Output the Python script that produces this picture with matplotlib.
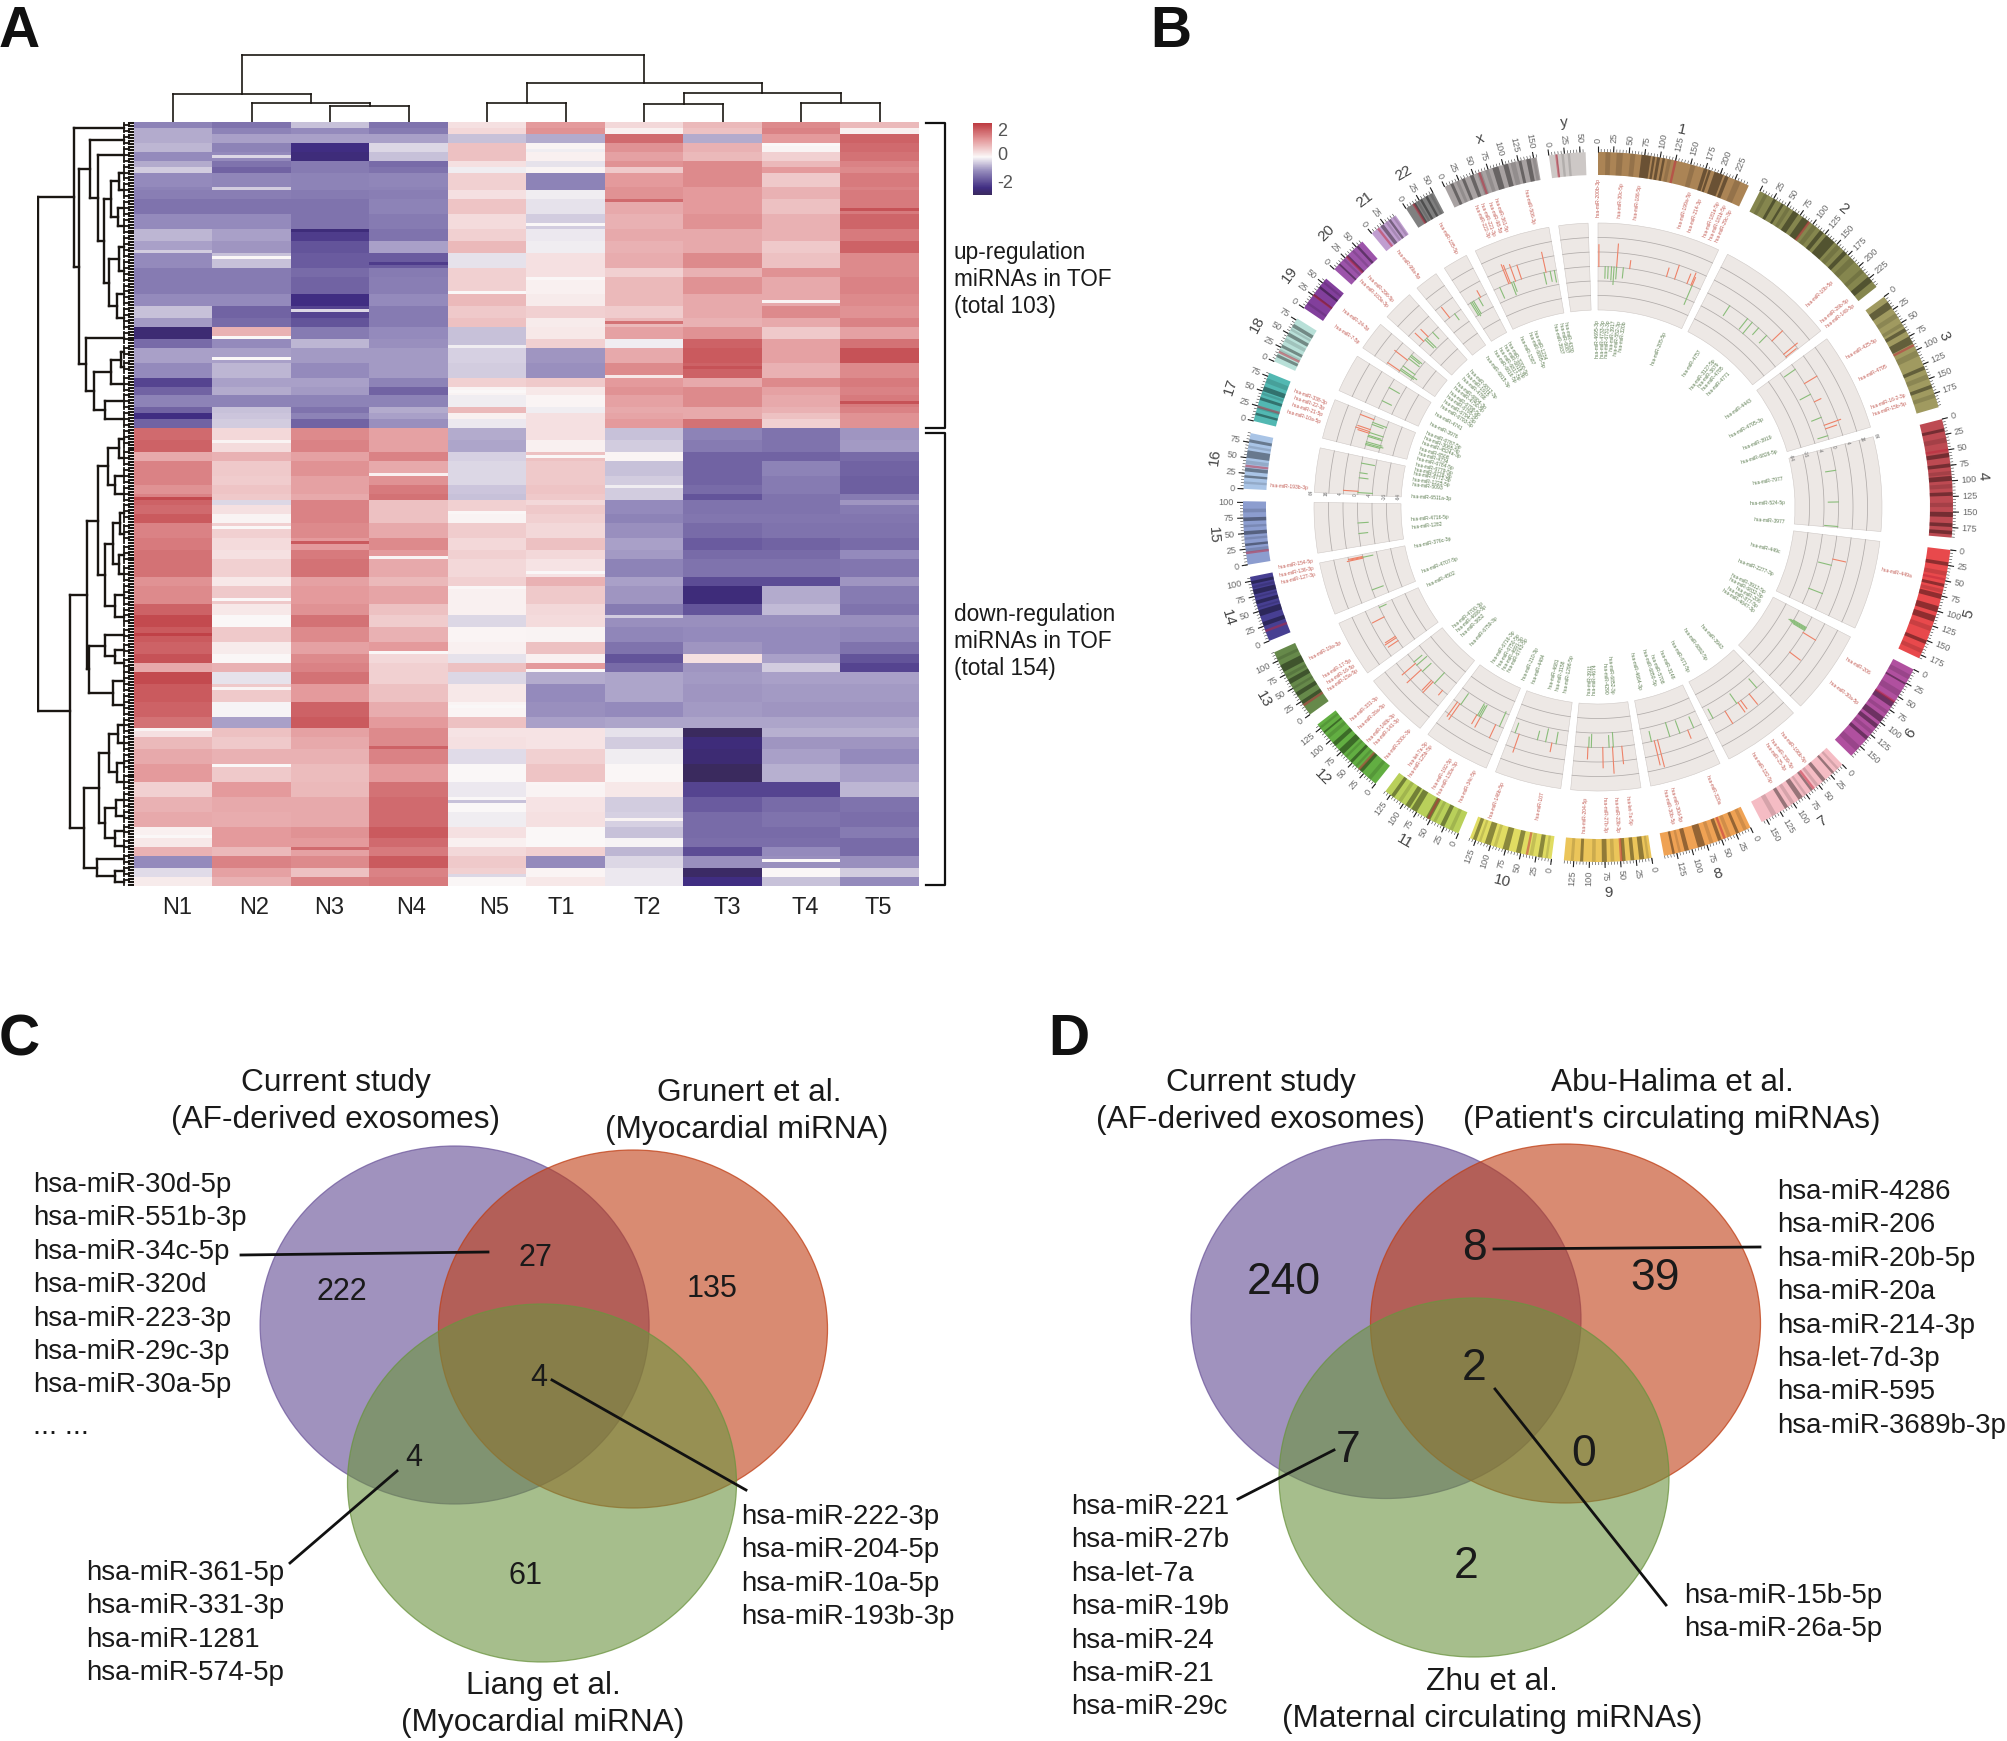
# -*- coding: utf8 -*-
"""
Exosome miRNA figure: heatmap (A), circos plot (B) and two venn diagrams (C, D)
"""
from matplotlib import pyplot as plt
from matplotlib.colors import LinearSegmentedColormap, to_rgba
from matplotlib.patches import Ellipse

import numpy as np

plt.rcParams['font.family'] = ['Liberation Sans', 'DejaVu Sans']

W, H = 2008, 1741

# ---------------- panel A, heatmap ----------------
columns = ['N1', 'N2', 'N3', 'N4', 'N5', 'T1', 'T2', 'T3', 'T4', 'T5']

band_rows = [2, 2, 3, 3, 3, 2, 2, 5, 1, 3, 5, 5, 4, 4, 5, 3, 6, 4, 4, 3, 4, 3, 5, 5, 3, 3, 4, 2, 2, 3,
             4, 4, 3, 5, 3, 3, 2, 2, 3, 3, 5, 4, 3, 6, 3, 6, 4, 4, 5, 4, 3, 3,
             4, 6, 5, 4, 3, 4, 5, 6, 5, 5, 5, 4, 3, 3, 4, 3, 3]

N1 = [-1.1, -.7, -.7, -.6, -1.0, -.7, -.4, -1.0, -1.1, -1.15, -1.3, -1.0, -.6, -.8, -1.0, -1.2, -1.2, -1.0, -.5,
      -.85, -2.4, -1.4, -.8, -1.0, -1.9, -1.5, -1.1, -1.5, -2.2, -1.5,
      1.8, 1.9, 1.0, 1.5, 1.5, 1.3, 1.5, 1.9, 1.8, 2.0, 1.5, 1.6, 1.7, 1.7, 1.3, 1.4, 1.9, 2.2, 2.0, 1.9, 2.1, 1.0,
      2.2, 2.0, 1.9, 1.7, .3, .8, 1.0, 1.2, .5, .9, 1.0, .1, .2, .9, -1.0, -.25, .15]
N2 = [-1.3, -1.1, -.8, -1.1, -1.0, -1.3, -1.5, -1.05, -.4, -1.15, -1.3, -1.0, -.8, -.9, -.5, -1.2, -1.2, -1.0, -1.5,
      -1.4, .9, -1.0, -.8, -.6, -.8, -.7, -1.1, -.5, -.45, -.4,
      .4, .35, .9, .6, .55, .65, .6, -.3, .3, .05, .5, .35, .3, .5, .2, .6, .2, 0, .6, .15, .02, .9,
      -.2, .6, -.05, -.8, .7, .6, .9, .6, 1.2, 1.0, .95, 1.2, 1.2, .8, 1.5, 1.1, .9]
N3 = [-.5, -1.0, -.8, -2.2, -2.3, -1.2, -1.2, -1.1, -1.1, -1.2, -1.3, -1.3, -2.0, -1.7, -1.6, -1.4, -1.5, -2.2, -1.9,
      -1.7, -1.2, -.6, -.85, -1.0, -.8, -.85, -1.1, -1.3, -1.1, -1.5,
      1.4, 1.5, 1.1, 1.3, 1.1, 1.1, 1.0, 1.5, 1.5, 1.5, 1.4, 1.2, 1.6, 1.7, 1.1, 1.2, 1.3, 1.7, 1.4, 1.1, 1.4, 1.5,
      1.7, 1.2, 1.9, 2.0, 1.1, 1.0, .9, .75, .8, 1.0, 1.0, 1.3, 1.2, 1.1, 1.4, .7, 1.5]
N4 = [-1.3, -1.2, -.8, -.3, -.5, -1.4, -1.3, -1.05, -1.1, -1.15, -1.1, -1.2, -1.3, -.8, -1.6, -1.2, -1.15, -1.0, -1.2,
      -1.2, -1.0, -.95, -.85, -.85, -1.1, -1.5, -1.1, -.7, -.8, -.95,
      1.1, 1.1, 1.5, 1.0, 1.3, 1.6, 1.7, .7, .7, .7, 1.0, 1.4, 1.2, 1.0, .8, 1.05, .7, .55, .9, 1.2, .4, .5,
      .5, .7, .95, 1.2, 1.4, 1.4, 1.5, 1.2, 1.7, 1.8, 1.8, 2.0, 1.8, 1.6, 2.0, 1.5, 1.6]
N5 = [.3, .4, -.5, .7, .7, .3, -.1, .5, .5, .3, .65, .35, .5, .8, -.2, .5, .5, .8, .6, .7, -.5, -.5, -.35, -.4, .5,
      .05, -.1, .8, .1, -.15,
      -.7, -.75, -.35, -.3, -.3, -.45, -.5, .5, .5, .05, .55, .4, .5, .4, .5, .1, .1, -.3, .03, .1, -.2, .7,
      -.3, .2, .03, .7, .25, .3, -.25, 0, -.15, 0, -.1, .3, .1, .4, .6, .5, .02]
T1 = [1.2, 1.3, -.7, .05, .1, -.2, .05, -1.1, -1.1, -.1, -.2, -.4, -.15, -.1, .3, .3, .1, .15, .5, .15, .2, .5, -.9,
      -.95, .6, .2, .03, -.1, .3, .3,
      .3, .1, .7, .6, .6, .65, .6, .4, .6, .5, .4, .7, .4, .25, .9, .6, .4, .35, .05, .7, .1, 1.2,
      -.7, -1.0, -.95, -.8, .25, .25, .5, .65, .05, .25, .3, 0, 0, .5, -1.0, .03, .2]
T2 = [.4, .1, 1.8, 1.3, 1.1, 1.3, .6, 1.2, 1.3, 1.3, 1.0, .9, 1.0, .9, .95, .5, .8, .8, .55, .8, 1.1, -.1, 1.0, 1.4,
      1.2, 1.3, 1.1, 1.0, 1.05, 1.2,
      -.5, -.4, .03, -.5, -.4, -.4, -.4, -1.0, -1.0, -1.1, -.95, -.8, -.85, -1.1, -.8, -.9, -1.2, -.95, -1.05, -1.3,
      -1.7, -1.4,
      -.75, -.75, -1.0, -.75, -.2, -.4, -.1, .02, .2, -.4, -.35, -.5, -.05, -.6, -.3, -.15, -.15]
T3 = [.8, .7, -.7, .9, .8, 1.4, 1.4, 1.4, 1.2, 1.2, 1.2, 1.3, 1.0, 1.0, 1.4, .9, 1.3, 1.0, 1.0, .9, 1.3, 1.9, 2.0,
      1.9, 1.0, 1.4, 1.4, 1.0, 1.0, 1.7,
      -1.1, -1.2, -1.5, -1.5, -1.5, -1.4, -1.7, -1.3, -1.3, -1.25, -1.4, -1.6, -1.4, -1.3, -1.8, -2.3, -1.7, -.95,
      -1.0, -.9, .3, -.9,
      -.85, -.9, -.85, -.75, -2.7, -2.3, -2.4, -2.7, -1.9, -1.6, -1.4, -1.4, -1.35, -1.8, -.95, -2.6, -2.2]
T4 = [1.4, 1.5, 1.2, .05, .5, .8, 1.2, .6, .9, .9, .7, .9, .9, .6, .7, 1.3, 1.0, 1.0, 1.4, 1.0, .6, 1.1, 1.1, .9,
      1.4, 1.1, 1.0, .9, .7, .5,
      -1.3, -1.3, -1.5, -1.1, -1.2, -1.2, -1.3, -1.3, -1.3, -1.25, -1.3, -1.5, -1.4, -1.3, -1.8, -.7, -.55, -.95,
      -1.0, -1.0, -.8, -.4,
      -.8, -.85, -.9, -.75, -.65, -.9, -.8, -.65, -1.9, -1.4, -1.3, -1.4, -1.35, -1.0, -.95, .02, -.5]
T5 = [.8, .1, 1.9, 1.8, 1.7, 1.5, 1.4, 1.6, 1.5, 1.6, 1.6, 1.85, 1.6, 1.9, 1.4, 1.4, 1.5, 1.4, 1.3, 1.5, 1.1, 1.7,
      2.1, 1.4, 1.6, 1.5, 1.6, 1.5, 1.3, 1.3,
      -.9, -.85, -1.4, -1.5, -1.55, -1.55, -1.2, -.9, -1.2, -1.25, -1.3, -1.4, -1.0, -1.25, -.9, -1.2, -1.3, -.95,
      -1.05, -1.3, -1.7, -1.9,
      -.8, -.85, -.9, -.75, -.65, -.9, -1.0, -.8, -.6, -1.3, -1.35, -1.2, -1.4, -1.4, -.95, -.4, -1.0]

# thin lines that the bands above do not catch: row, column, value
streak_rows = [7, 9, 11, 22, 26, 29, 34, 36, 43, 45, 47, 52, 57, 60, 63, 67, 72, 75, 79, 82, 85, 90, 94,
               107, 112, 118, 122, 126, 131, 136, 141, 146, 151, 156, 160, 166, 172, 178, 184, 190, 196,
               204, 210, 216, 222, 228, 234, 240, 244, 248, 253]
streak_cols = [8, 5, 1, 1, 6, 9, 5, 2, 0, 1, 3, 5, 4, 8, 2, 6, 1, 4, 1, 7, 6, 4, 9,
               1, 5, 3, 6, 0, 4, 1, 2, 3, 5, 4, 1, 6, 0, 3, 5, 1, 4,
               0, 3, 1, 5, 4, 6, 0, 2, 8, 4]
streak_vals = [0, -.1, -.3, -.4, 1.8, 2.1, 0, -2.3, -.4, 0, -2, .02, 0, .05, -.3, 1.7, 0, -.1, 0, 2.1, .2, 0, 2.1,
               .05, 0, .1, -.1, 2.2, .02, 0, 2.0, .05, 0, .02, 0, -.4, 2.3, 0, 0, .05, 0,
               .05, 1.9, 0, .03, -.5, .05, 0, 1.8, 0, -.3]

tree_cols = (1.0,
             (.42, 1, (.29, 1, (.24, 1, 1))),
             (.58, (.29, 1, 1), (.43, (.27, 1, 1), (.29, 1, 1))))

tree_a3 = (.46, 4, (.38, 6, (.31, (.24, (.16, 6, 6), (.17, 6, 6)), (.26, (.16, 8, 8), (.18, 8, 8)))))
tree_a4 = (.5, 5, (.42, (.24, (.14, 5, 5), 6), (.3, 6, 6)))
tree_b1 = (.37, (.27, (.16, 7, 6), (.2, 6, 6)), (.3, (.22, (.15, 7, 7), (.16, 7, 6)), (.2, 8, 7)))
tree_b2 = (.47, (.3, 5, (.2, 5, 4)), (.22, 8, 8))
tree_b3 = (.36, (.26, (.17, 6, 6), (.18, 7, 6)), (.3, (.19, 6, 5), (.2, 5, 5)))
tree_b4 = (.39, 4, (.2, 4, 3))
tree_rows = (1.0, (.62, 4, (.57, tree_a3, tree_a4)), (.67, (.49, tree_b1, tree_b2), (.52, tree_b3, tree_b4)))

# ---------------- panel B, circos ----------------
chr_names = ['1', '2', '3', '4', '5', '6', '7', '8', '9', '10', '11', '12', '13', '14', '15', '16', '17', '18',
             '19', '20', '21', '22', 'x', 'y']
chr_len = [249, 243, 198, 191, 181, 171, 159, 146, 141, 135, 135, 133, 115, 107, 102, 90, 81, 78, 59, 63, 48, 51,
           155, 59]
chr_colors = ['#ab8455', '#85864e', '#a09a60', '#bd4a52', '#e8494c', '#b0509f', '#f5bcc4', '#efa254', '#ebc55a',
              '#e0dc62', '#b9d05a', '#62ae42', '#66894a', '#473f92', '#8c9dcf', '#a9c4e6', '#52b8b2', '#b8e0d8',
              '#823f9c', '#9c54aa', '#c09ed0', '#808080', '#a8a2a2', '#cdc8c6']
chr_centro = [125, 93, 91, 50, 48, 60, 60, 45, 49, 40, 54, 35, 18, 17, 19, 37, 24, 17, 26, 28, 13, 14, 60, 12]
chr_dark = [
    [(70, 85), (88, 92), (95, 100), (104, 108), (172, 178), (180, 184), (190, 205), (208, 214)],
    [(25, 30), (40, 44), (62, 72), (80, 92), (115, 122), (128, 145), (165, 172), (222, 232)],
    [(10, 22), (60, 66), (75, 88), (128, 134), (160, 166)],
    [(15, 20), (55, 62), (72, 78), (92, 100), (118, 124), (150, 158), (168, 174), (180, 186)],
    [(20, 26), (55, 60), (72, 80), (92, 102), (108, 118), (150, 156)],
    [(25, 28), (60, 70), (90, 100), (105, 112), (130, 136)],
    [(18, 22), (36, 42), (62, 66), (82, 90), (110, 116)],
    [(20, 25), (50, 56), (78, 90), (105, 112), (128, 132)],
    [(12, 20), (28, 34), (42, 48), (72, 80), (110, 115)],
    [(15, 22), (50, 58), (70, 80), (100, 110), (124, 130)],
    [(25, 32), (50, 58), (75, 85), (88, 96), (118, 124)],
    [(28, 34), (50, 55), (70, 80), (88, 95), (115, 118)],
    [(20, 26), (35, 42), (58, 66), (80, 92)],
    [(25, 32), (42, 52), (62, 68), (78, 86), (95, 100)],
    [(30, 34), (48, 54), (70, 76)],
    [(18, 22), (28, 34), (50, 62), (75, 80)],
    [(10, 14), (35, 40), (50, 58)],
    [(8, 13), (25, 30), (46, 52), (62, 68)],
    [(25, 28), (40, 44)],
    [(10, 13), (28, 32), (50, 54)],
    [(18, 24), (34, 38)],
    [(14, 18), (26, 30), (36, 40)],
    [(10, 15), (30, 35), (44, 50), (82, 92), (100, 108), (125, 130), (138, 145)],
    [(12, 13)],
]
chr_mid = [
    [(12, 20), (30, 40), (52, 60), (112, 118), (150, 158), (225, 235)],
    [(8, 14), (50, 56), (100, 108), (150, 158), (180, 190), (205, 212)],
    [(32, 40), (50, 56), (100, 110), (142, 150), (175, 182)],
    [(30, 38), (84, 90), (105, 112), (135, 142)],
    [(35, 42), (64, 70), (126, 134), (165, 172)],
    [(10, 18), (40, 50), (78, 84), (118, 124), (150, 160)],
    [(8, 12), (50, 55), (74, 78), (98, 104), (132, 140)],
    [(6, 12), (34, 40), (64, 70), (118, 122)],
    [(4, 8), (60, 66), (90, 96), (125, 130)],
    [(6, 10), (30, 36), (90, 95), (116, 120)],
    [(10, 16), (40, 45), (104, 110)],
    [(10, 16), (40, 44), (62, 66), (104, 110), (124, 128)],
    [(48, 52), (70, 75), (100, 105)],
    [(55, 58), (72, 75), (88, 92)],
    [(20, 26), (40, 44), (60, 64), (84, 90)],
    [(8, 12), (40, 46), (66, 70)],
    [(20, 24), (44, 48), (64, 72)],
    [(18, 22), (36, 42), (56, 60)],
    [(8, 12), (50, 54)],
    [(20, 24), (40, 44)],
    [(28, 32), (42, 46)],
    [(20, 24), (44, 48)],
    [(20, 25), (56, 64), (70, 76), (112, 120), (148, 153)],
    [(20, 24), (30, 34)],
]

# marks on the ring: position in Mb, height in grid steps, miRNA
chr_up = [
    [(2, 1.5, 'hsa-miR-200b-3p'), (44, 1.6, 'hsa-miR-30c-5p'), (75, .55, 'hsa-miR-186-5p'),
     (164, .6, 'hsa-miR-199a-5p'), (184, 1.0, 'hsa-miR-214-3p'), (215, .7, 'hsa-miR-181a-5p'),
     (225, .9, 'hsa-miR-181b-5p'), (228, .6, 'hsa-miR-29c-3p')],
    [(190, 1.0, 'hsa-miR-10b-5p'), (232, 1.2, 'hsa-miR-26b-5p'), (240, .9, 'hsa-miR-149-5p')],
    [(54, 1.0, 'hsa-miR-425-5p'), (103, .5, 'hsa-miR-4795'), (163, 1.2, 'hsa-miR-16-2-3p'),
     (172, .8, 'hsa-miR-15b-5p')],
    [],
    [(55, .9, 'hsa-miR-449a')],
    [(42, 1.0, 'hsa-miR-206'), (98, .9, 'hsa-miR-30a-5p')],
    [(45, .9, 'hsa-miR-196b-5p'), (70, .7, 'hsa-miR-339-5p'), (78, .8, 'hsa-miR-25-3p'), (115, 1.0, 'hsa-miR-182-5p')],
    [(35, .6, 'hsa-miR-320a'), (110, 1.9, 'hsa-miR-30d-5p'), (118, 1.7, 'hsa-miR-30b-5p')],
    [(30, 1.2, 'hsa-let-7a-5p'), (52, 1.8, 'hsa-miR-23b-3p'), (75, 1.4, 'hsa-miR-27b-3p'),
     (110, .8, 'hsa-miR-204-5p')],
    [(35, .6, 'hsa-miR-107'), (115, 1.3, 'hsa-miR-146b-5p')],
    [(20, 1.0, 'hsa-miR-34c-5p'), (60, .8, 'hsa-miR-130a-3p'), (70, .7, 'hsa-miR-192-5p'),
     (118, 1.3, 'hsa-miR-125b-5p'), (125, 1.2, 'hsa-let-7a-3p')],
    [(15, .4, 'hsa-miR-200c-3p'), (45, 1.0, 'hsa-miR-141-3p'), (50, .9, 'hsa-miR-148b-3p'),
     (85, 1.3, 'hsa-miR-26a-5p'), (105, 1.2, 'hsa-miR-331-3p')],
    [(20, .8, 'hsa-miR-15a-5p'), (28, .9, 'hsa-miR-16-5p'), (32, .8, 'hsa-miR-17-5p'), (85, .9, 'hsa-miR-19a-3p')],
    [(98, 1.1, 'hsa-miR-127-3p'), (100, .9, 'hsa-miR-136-3p'), (102, 1.0, 'hsa-miR-154-5p')],
    [],
    [(8, 1.0, 'hsa-miR-193b-3p')],
    [(38, .8, 'hsa-miR-10a-5p'), (42, 1.0, 'hsa-miR-21-5p'), (47, .9, 'hsa-miR-22-3p'), (72, 1.0, 'hsa-miR-338-3p')],
    [],
    [(4, 1.0, 'hsa-miR-7-5p'), (35, 1.1, 'hsa-miR-24-3p')],
    [(15, .8, 'hsa-miR-103a-3p'), (30, .7, 'hsa-miR-296-5p')],
    [(15, .9, 'hsa-miR-99a-5p')],
    [(35, .5, 'hsa-miR-185-5p')],
    [(38, 1.4, 'hsa-miR-222-3p'), (42, 1.3, 'hsa-miR-221-3p'), (55, 1.2, 'hsa-miR-98-5p'),
     (70, 1.0, 'hsa-miR-361-5p'), (130, 1.4, 'hsa-miR-506-3p')],
    [],
]
chr_down = [
    [(17, -.8, 'hsa-miR-4695-3p'), (24, -.8, 'hsa-miR-4733-3p'), (32, -.9, 'hsa-miR-6731-3p'),
     (38, -1.2, 'hsa-miR-3917'), (44, -.8, 'hsa-miR-552-3p'), (60, -.7, 'hsa-miR-320b'),
     (228, -1.4, 'hsa-miR-205-5p')],
    [(60, -.8, 'hsa-miR-4757'), (112, -.9, 'hsa-miR-3127-5p'), (126, -1.0, 'hsa-miR-3679'),
     (146, -.6, 'hsa-miR-4785'), (172, -.7, 'hsa-miR-4771')],
    [(14, -.9, 'hsa-miR-4443'), (83, -.8, 'hsa-miR-4795-3p'), (143, -.7, 'hsa-miR-3919'),
     (189, -.7, 'hsa-miR-6826-5p')],
    [(55, -.7, 'hsa-miR-7977'), (130, -.7, 'hsa-miR-524-5p'), (188, -.9, 'hsa-miR-3977')],
    [(70, -.9, 'hsa-miR-449c'), (140, -1.0, 'hsa-miR-2277-3p')],
    [(28, -1.0, 'hsa-miR-3912-5p'), (30, -1.2, 'hsa-miR-6832-3p'), (32, -1.3, 'hsa-miR-206'),
     (34, -1.1, 'hsa-miR-877-5p'), (36, -.9, 'hsa-miR-4647-3p')],
    [(22, -.8, 'hsa-miR-3943'), (82, -.8, 'hsa-miR-6892-5p'), (148, -.7, 'hsa-miR-671-5p')],
    [(20, -.8, 'hsa-miR-3148'), (55, -.9, 'hsa-miR-5708'), (80, -1.0, 'hsa-miR-6850-5p'),
     (125, -.7, 'hsa-miR-4664-3p')],
    [(50, -1.0, 'hsa-miR-6852-3p'), (60, -.8, 'hsa-miR-4290'), (102, -.9, 'hsa-miR-4674'), (108, -.7, 'hsa-miR-3911')],
    [(25, -.8, 'hsa-miR-1296-5p'), (50, -.9, 'hsa-miR-3158'), (70, -.6, 'hsa-miR-4681'), (125, -.7, 'hsa-miR-4484')],
    [(10, -1.1, 'hsa-miR-210-3p'), (60, -.9, 'hsa-miR-6743-5p'), (64, -.8, 'hsa-miR-4691-3p'),
     (68, -.9, 'hsa-miR-6750-5p'), (115, -.9, 'hsa-miR-6716-3p')],
    [(40, -1.0, 'hsa-miR-6759-3p'), (80, -.8, 'hsa-miR-3652'), (100, -.9, 'hsa-miR-4699-5p'),
     (110, -.7, 'hsa-miR-4700-3p')],
    [(110, -.5, 'hsa-miR-4502')],
    [(20, -.8, 'hsa-miR-4707-5p'), (100, -.7, 'hsa-miR-376c-3p')],
    [(30, -.6, 'hsa-miR-1282'), (55, -.7, 'hsa-miR-4716-5p')],
    [(5, -1.0, 'hsa-miR-6511a-3p'), (40, -.6, 'hsa-miR-5093'), (52, -.5, 'hsa-miR-1225-5p'),
     (75, -.9, 'hsa-miR-6772-3p')],
    [(10, -1.0, 'hsa-miR-6776-3p'), (13, -1.2, 'hsa-miR-6779-5p'), (17, -1.1, 'hsa-miR-6784-5p'),
     (30, -1.0, 'hsa-miR-4734'), (33, -.9, 'hsa-miR-6508'), (40, -1.0, 'hsa-miR-4524a-3p'),
     (60, -.8, 'hsa-miR-3065-5p'), (65, -1.0, 'hsa-miR-6787-5p')],
    [(20, -.7, 'hsa-miR-3976'), (55, -.8, 'hsa-miR-4741')],
    [(6, -1.1, 'hsa-miR-6793-5p'), (10, -1.3, 'hsa-miR-6794-5p'), (18, -1.0, 'hsa-miR-6795-3p'),
     (40, -.9, 'hsa-miR-6798-5p'), (46, -.8, 'hsa-miR-4750-5p'), (50, -.9, 'hsa-miR-6804-3p')],
    [(20, -.8, 'hsa-miR-4788'), (25, -.9, 'hsa-miR-1915'), (45, -.6, 'hsa-miR-6812-3p')],
    [(30, -.5, 'hsa-miR-6815-3p')],
    [(8, -1.0, 'hsa-miR-6816-5p'), (12, -1.1, 'hsa-miR-6817-5p'), (16, -1.0, 'hsa-miR-6818-3p'),
     (30, -.6, 'hsa-miR-3200-5p')],
    [(15, -.8, 'hsa-miR-1587'), (45, -.9, 'hsa-miR-6895-5p'), (50, -.7, 'hsa-miR-1234'), (125, -.8, 'hsa-miR-3937'),
     (140, -.7, 'hsa-miR-6087'), (150, -.8, 'hsa-miR-4330')],
    [],
]
track_ticks = ['-64', '-16', '-4', '0', '4', '16', '64']

# ---------------- panels C and D, venn ----------------
venn_c_titles = ['Current study', '(AF-derived exosomes)', 'Grunert et al.', '(Myocardial miRNA)', 'Liang et al.',
                 '(Myocardial miRNA)']
venn_c_counts = ['222', '27', '135', '4', '4', '61']
venn_c_left = ['hsa-miR-30d-5p', 'hsa-miR-551b-3p', 'hsa-miR-34c-5p', 'hsa-miR-320d', 'hsa-miR-223-3p',
               'hsa-miR-29c-3p', 'hsa-miR-30a-5p']
venn_c_right = ['hsa-miR-222-3p', 'hsa-miR-204-5p', 'hsa-miR-10a-5p', 'hsa-miR-193b-3p']
venn_c_low = ['hsa-miR-361-5p', 'hsa-miR-331-3p', 'hsa-miR-1281', 'hsa-miR-574-5p']

venn_d_titles = ['Current study', '(AF-derived exosomes)', 'Abu-Halima et al.', "(Patient's circulating miRNAs)",
                 'Zhu et al.', '(Maternal circulating miRNAs)']
venn_d_counts = ['240', '8', '39', '2', '7', '0', '2']
venn_d_right = ['hsa-miR-4286', 'hsa-miR-206', 'hsa-miR-20b-5p', 'hsa-miR-20a', 'hsa-miR-214-3p', 'hsa-let-7d-3p',
                'hsa-miR-595', 'hsa-miR-3689b-3p']
venn_d_left = ['hsa-miR-221', 'hsa-miR-27b', 'hsa-let-7a', 'hsa-miR-19b', 'hsa-miR-24', 'hsa-miR-21', 'hsa-miR-29c']
venn_d_low = ['hsa-miR-15b-5p', 'hsa-miR-26a-5p']


def px_axes(fig, x0, y0, x1, y1, **kw):
    return fig.add_axes([x0 / W, 1 - y1 / H, (x1 - x0) / W, (y1 - y0) / H], **kw)


def draw_tree(ax, node, cursor, vertical):
    """Draw one branch and give back its position and height"""
    def seg(p0, h0, p1, h1, lw=None):
        if lw is None:
            lw = 1.2 if vertical else 1.7
        if vertical:
            ax.plot([p0, p1], [h0, h1], color='#1a1612', lw=lw, solid_capstyle='projecting')
        else:
            ax.plot([h0, h1], [p0, p1], color='#1a1612', lw=lw, solid_capstyle='projecting')

    if isinstance(node, int):
        start = cursor[0]
        cursor[0] += node
        if node == 1:
            return start + .5, 0.0
        # single rows join in pairs first, which gives the black comb at the heatmap edge
        comb = .1
        for i in range(node):
            seg(start + i + .5, 0, start + i + .5, .05, lw=1.5)
        for i in range(0, node - 1, 2):
            seg(start + i + .5, .05, start + i + 1.5, .05, lw=1.2)
            seg(start + i + 1, .05, start + i + 1, comb, lw=1.3)
        seg(start + .5, comb, start + node - .5, comb, lw=1.3)
        return start + node / 2, comb

    height, first, second = node
    p0, h0 = draw_tree(ax, first, cursor, vertical)
    p1, h1 = draw_tree(ax, second, cursor, vertical)
    seg(p0, h0, p0, height)
    seg(p1, h1, p1, height)
    seg(p0, height, p1, height)
    return (p0 + p1) / 2, height


def heatmap(fig):
    matrix = np.repeat(np.array([N1, N2, N3, N4, N5, T1, T2, T3, T4, T5]).T, band_rows, axis=0)
    for row, col, val in zip(streak_rows, streak_cols, streak_vals):
        matrix[row, col] = val

    vmin, vmax = -2.7, 2.4
    nodes = [(-2.7, '#3a2a5e'), (-2.2, '#402d82'), (-1.0, '#958bbc'), (0, '#fbf8f8'), (1.2, '#e49a9c'),
             (2.4, '#bd3a40')]
    cmap = LinearSegmentedColormap.from_list('mirna', [((v - vmin) / (vmax - vmin), c) for v, c in nodes])
    ax = px_axes(fig, 134, 122, 919, 886)
    im = ax.imshow(matrix, cmap=cmap, vmin=vmin, vmax=vmax, aspect='auto', interpolation='nearest')
    ax.axis('off')

    ax_top = px_axes(fig, 134, 54, 919, 122)
    draw_tree(ax_top, tree_cols, [0], True)
    ax_top.set_xlim(0, 10)
    ax_top.set_ylim(0, 1.02)
    ax_top.axis('off')

    ax_left = px_axes(fig, 37, 122, 134, 886)
    draw_tree(ax_left, tree_rows, [0], False)
    ax_left.set_xlim(1.01, 0)
    ax_left.set_ylim(sum(band_rows), 0)
    ax_left.axis('off')

    cax = px_axes(fig, 973, 123, 992, 195)
    cb = fig.colorbar(im, cax=cax)
    cb.set_ticks([])
    cb.outline.set_visible(False)


def radial_rotation(theta):
    # text along the radius, never upside down
    if theta <= 180:
        return 90 - theta, True
    return 270 - theta, False


def spread(angles, step):
    # keep names apart but around the same place
    if not angles:
        return []
    angles = sorted(angles)
    out = list(angles)
    for i in range(1, len(out)):
        out[i] = max(out[i], out[i - 1] + step)
    shift = sum(out) / len(out) - sum(angles) / len(angles)
    return [a - shift for a in out]


def circos(fig):
    cx, cy, rmax = 1598, 507, 440
    ax = px_axes(fig, cx - rmax, cy - rmax, cx + rmax, cy + rmax, projection='polar')
    ax.set_theta_zero_location('N')
    ax.set_theta_direction(-1)
    ax.set_rlim(0, rmax)
    ax.axis('off')

    gap = 2.0
    per_mb = (360 - gap * len(chr_len)) / sum(chr_len)
    r_in, r_out = 332, 355
    g_in, g_out = 197, 284
    g_step = (g_out - g_in) / 6
    g_mid = g_in + 3 * g_step

    start = 0.0
    for i, length in enumerate(chr_len):
        def ang(mb, s=start):
            return np.radians(s + np.asarray(mb) * per_mb)
        width = np.radians(length * per_mb)
        mid = ang(length / 2)

        # ideogram
        ax.bar(ang(0), r_out - r_in, width=width, bottom=r_in, align='edge', color=chr_colors[i], lw=0)
        for a, b in chr_mid[i]:
            ax.bar(ang(a), r_out - r_in, width=np.radians((b - a) * per_mb), bottom=r_in, align='edge',
                   color='black', alpha=.13, lw=0)
        for a, b in chr_dark[i]:
            ax.bar(ang(a), r_out - r_in, width=np.radians((b - a) * per_mb), bottom=r_in, align='edge',
                   color='black', alpha=.38, lw=0)
        ax.bar(ang(chr_centro[i] - 2), r_out - r_in, width=np.radians(4 * per_mb), bottom=r_in, align='edge',
               color='#c0283c', alpha=.5, lw=0)

        # scale outside the ideogram
        minor = np.arange(0, length + 1, 5)
        major = np.arange(0, length + 1, 25)
        ax.vlines(ang(minor), r_out, r_out + 3, color='#333333', lw=.4)
        ax.vlines(ang(major), r_out, r_out + 6, color='#222222', lw=.8)
        for mb in major:
            theta = start + mb * per_mb
            rot, right = radial_rotation(theta)
            ax.text(np.radians(theta), r_out + 9, str(mb), fontsize=6.6, color='#6a6a6a', rotation=rot,
                    rotation_mode='anchor', ha='left' if right else 'right', va='center')

        theta_mid = start + length * per_mb / 2
        name_rot = 180 - theta_mid if 90 < theta_mid < 270 else -theta_mid
        ax.text(mid, 386, chr_names[i], fontsize=11, color='#444444', rotation=name_rot,
                rotation_mode='anchor', ha='center', va='center')

        # track
        ax.bar(ang(0), g_out - g_in, width=width, bottom=g_in, align='edge', color='#ede8e5', lw=.4,
               edgecolor='#cfc9c6')
        arc = np.linspace(ang(0), ang(length), 40)
        for k in range(1, 6):
            ax.plot(arc, np.full(arc.shape, g_in + k * g_step), color='#b0aba9', lw=.55)

        for mb, val, _ in chr_up[i]:
            ax.plot([ang(mb)] * 2, [g_mid, g_mid + val * g_step], color='#ee8268', lw=.8)
        for mb, val, _ in chr_down[i]:
            ax.plot([ang(mb)] * 2, [g_mid, g_mid + val * g_step], color='#8abd7a', lw=.8)

        # miRNA names fanned out over the sector
        up_angles = spread([start + m[0] * per_mb for m in chr_up[i]], 1.3)
        for theta, mark in zip(up_angles, sorted(chr_up[i])):
            rot, right = radial_rotation(theta)
            ax.text(np.radians(theta), g_out + 6, mark[2], fontsize=3.6, color='#c25a52', rotation=rot,
                    rotation_mode='anchor', ha='left' if right else 'right', va='center')
        down_angles = spread([start + m[0] * per_mb for m in chr_down[i]], 1.7)
        for theta, mark in zip(down_angles, sorted(chr_down[i])):
            rot, right = radial_rotation(theta)
            ax.text(np.radians(theta), g_in - 9, mark[2], fontsize=3.6, color='#5c7c50', rotation=rot,
                    rotation_mode='anchor', ha='right' if right else 'left', va='center')

        if chr_names[i] in ('4', '16'):
            for k, label in enumerate(track_ticks):
                ax.text(np.radians(start), g_in + k * g_step, label, fontsize=3.4, color='#666666',
                        rotation=-start, rotation_mode='anchor', ha='center', va='bottom')

        start += length * per_mb + gap


def venn(ax, centers, width, height):
    colors = [(110, 88, 156), (192, 62, 20), (107, 148, 63)]
    alphas = [.65, .6, .6]
    for (x, y), rgb, alpha in zip(centers, colors, alphas):
        col = tuple(c / 255 for c in rgb)
        ax.add_patch(Ellipse((x, y), width, height, fc=to_rgba(col, alpha), ec=to_rgba(col, .75), lw=.9))


def stacked(ax, x, y, labels, step=33.4, size=19.9):
    for i, label in enumerate(labels):
        ax.text(x, y + i * step, label, fontsize=size, color='#1a1a1a', ha='left', va='center')


def link(ax, x0, y0, x1, y1):
    ax.plot([x0, x1], [y0, y1], color='#111111', lw=2)


def overlay(fig):
    ax = px_axes(fig, 0, 0, W, H)
    ax.set_xlim(0, W)
    ax.set_ylim(H, 0)
    ax.axis('off')
    ax.patch.set_alpha(0)

    for letter, x, y in [('A', 19, 32), ('B', 1171, 32), ('C', 19, 1040), ('D', 1069, 1040)]:
        ax.text(x, y, letter, fontsize=41, fontweight='bold', color='#111111', ha='center', va='center')

    # panel A text
    col_x = [177, 254, 329, 411, 494, 561, 647, 727, 805, 878]
    for x, label in zip(col_x, columns):
        ax.text(x, 908, label, fontsize=17, color='#222222', ha='center', va='center')
    ax.plot([926, 945, 945, 926], [123, 123, 428, 428], color='#111111', lw=1.6)
    ax.plot([926, 945, 945, 926], [433, 433, 885, 885], color='#111111', lw=1.6)
    stacked(ax, 954, 252, ['up-regulation', 'miRNAs in TOF', '(total 103)'], step=27, size=16.3)
    stacked(ax, 954, 615, ['down-regulation', 'miRNAs in TOF', '(total 154)'], step=27, size=16.3)
    for y, label in [(131, '2'), (156, '0'), (184, '-2')]:
        ax.text(997, y, label, fontsize=13, color='#555555', ha='left', va='center')

    # panel C
    venn(ax, [(454.6, 1325), (633, 1329), (542, 1483)], 389, 358)
    for (x, y), label in zip([(335.5, 1083), (335.5, 1120), (749, 1093), (747, 1130), (543, 1686), (543, 1723)],
                             venn_c_titles):
        ax.text(x, y, label, fontsize=22.8, color='#1a1a1a', ha='center', va='center')
    for (x, y), label in zip([(342, 1292), (535, 1258), (712, 1289), (539, 1378), (414, 1458), (526, 1576)],
                             venn_c_counts):
        ax.text(x, y, label, fontsize=22, color='#1a1a1a', ha='center', va='center')
    stacked(ax, 33, 1185, venn_c_left)
    ax.text(33, 1427, '... ...', fontsize=20.4, color='#1a1a1a', ha='left', va='center')
    stacked(ax, 741, 1517, venn_c_right)
    stacked(ax, 86, 1573, venn_c_low)
    link(ax, 241, 1255, 488, 1252)
    link(ax, 552, 1380, 746, 1490)
    link(ax, 397, 1471, 290, 1563)

    # panel D
    venn(ax, [(1386, 1319), (1565.5, 1323.5), (1474, 1477.5)], 390, 359)
    for (x, y), label in zip([(1261, 1083), (1261, 1120), (1672, 1083), (1672, 1120), (1492, 1682), (1492, 1719)],
                             venn_d_titles):
        ax.text(x, y, label, fontsize=22.8, color='#1a1a1a', ha='center', va='center')
    for (x, y), label in zip([(1284, 1283), (1474, 1248), (1655, 1279), (1474, 1368), (1348, 1451), (1584, 1454),
                              (1466, 1567)], venn_d_counts):
        ax.text(x, y, label, fontsize=32, color='#1a1a1a', ha='center', va='center')
    stacked(ax, 1777, 1192, venn_d_right)
    stacked(ax, 1071, 1507, venn_d_left)
    stacked(ax, 1684, 1596, venn_d_low)
    link(ax, 1494, 1249, 1760, 1247)
    link(ax, 1495, 1389, 1666, 1605)
    link(ax, 1238, 1499, 1334, 1450)


if __name__ == '__main__':
    fig = plt.figure(figsize=(W / 100, H / 100), dpi=100)
    heatmap(fig)
    circos(fig)
    overlay(fig)
    fig.savefig('out.png', dpi=100)
